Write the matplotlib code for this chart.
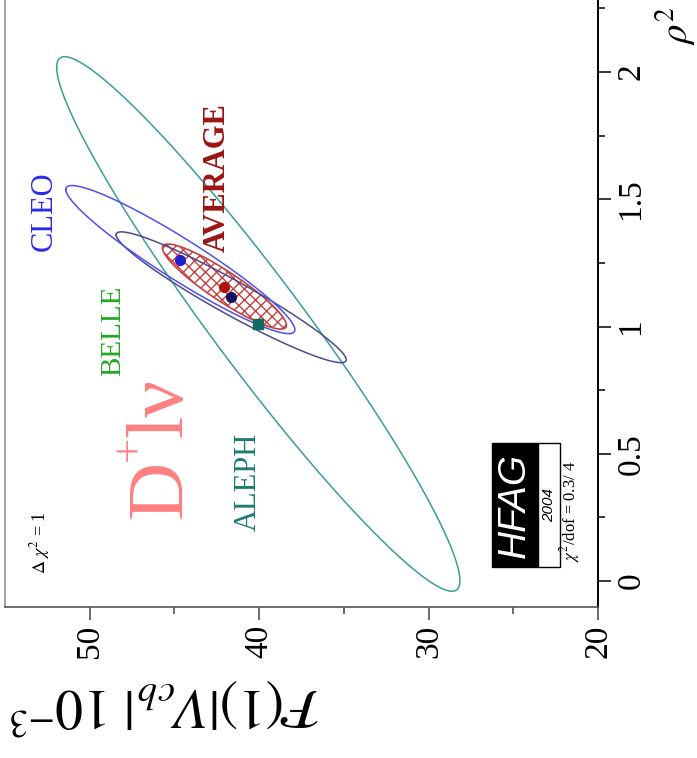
import numpy as np
import matplotlib
matplotlib.use('Agg')
import matplotlib.pyplot as plt
from matplotlib.patches import Polygon, Rectangle
from matplotlib.ticker import FixedLocator

plt.rcParams['font.family'] = ['Liberation Serif', 'DejaVu Serif']
plt.rcParams['mathtext.fontset'] = 'stix'
plt.rcParams['hatch.linewidth'] = 1.0

# Delta chi^2 = 1 contours in the (F(1)|Vcb|, rho^2) plane for B -> D l nu
experiments = ['ALEPH', 'BELLE', 'CLEO', 'AVERAGE']
fvcb = [40.05, 41.65, 44.65, 42.05]          # F(1)|Vcb| x 10^3
fvcb_err = [11.9, 6.79, 6.76, 3.66]
rho2 = [1.01, 1.115, 1.263, 1.157]
rho2_err = [1.05, 0.257, 0.291, 0.167]
corr = [0.96, 0.955, 0.946, 0.91]

contour_colors = ['#3a9e96', '#4b4b8f', '#5050f0', '#c03030']
marker_colors = ['#126a62', '#14145e', '#1f1fd0', '#b01212']
marker_shapes = ['s', 'o', 'o', 'o']
label_colors = ['#1c7c72', '#22a822', '#2a2af0', '#9c1414']

f_ticks = [20, 30, 40, 50]
f_minor = [25, 35, 45]
rho2_ticks = [0, 0.5, 1, 1.5, 2]
rho2_minor = [0.25, 0.75, 1.25, 1.75, 2.25]

chi2_text = r'$\chi^2$/dof = 0.3/ 4'


def contour(cx, sx, cy, sy, r, n=500):
    t = np.linspace(0, 2 * np.pi, n)
    x = cx + sx * np.cos(t)
    y = cy + sy * (r * np.cos(t) + np.sqrt(1 - r * r) * np.sin(t))
    return x, y


W, H = 697, 758
fig = plt.figure(figsize=(W / 100, H / 100), dpi=100)
# the page is turned a quarter turn: F(1)|Vcb| runs right-to-left, rho^2 upward
ax = fig.add_axes([5 / W, (H - 606.5) / H, 593 / W, (606.5 + 4.35) / H])
ax.set_xlim(55, 20)
ax.set_ylim(-0.1, 2.3)

for i, name in enumerate(experiments):
    x, y = contour(fvcb[i], fvcb_err[i], rho2[i], rho2_err[i], corr[i])
    if name == 'AVERAGE':
        ax.add_patch(Polygon(np.column_stack([x, y]), closed=True,
                             facecolor='white', edgecolor='#c84040',
                             hatch='xxx', lw=1.2, zorder=1))
    else:
        ax.plot(x, y, color=contour_colors[i], lw=1.1, zorder=2)

for i, name in enumerate(experiments):
    ax.plot(fvcb[i], rho2[i], marker=marker_shapes[i], color=marker_colors[i],
            ms=7 if marker_shapes[i] == 'o' else 7.5, ls='none', zorder=4)

# experiment labels
label_pos = {'CLEO': (52.66, 1.455), 'BELLE': (48.59, 0.982),
             'ALEPH': (40.67, 0.389), 'AVERAGE': (42.50, 1.587)}
for i, name in enumerate(experiments):
    fx, fy = label_pos[name]
    ax.text(fx, fy, name, rotation=90, ha='center', va='center',
            color=label_colors[i], fontsize=22 if name != 'BELLE' else 21,
            fontweight='bold' if name == 'AVERAGE' else 'normal', zorder=5)

# decay channel title, written along the baseline (D, superscript +, l nu)
chan_color = '#ff8080'
ax.text(44.58, 0.247, 'D', rotation=90, rotation_mode='anchor', ha='left',
        va='baseline', color=chan_color, fontsize=58, zorder=5)
ax.text(47.6, 0.522, '+', rotation=90, ha='center', va='center',
        color=chan_color, fontsize=32, zorder=5)
ax.text(44.58, 0.566, 'lν', rotation=90, rotation_mode='anchor', ha='left',
        va='baseline', color=chan_color, fontsize=58, zorder=5)

ax.text(52.96, 0.153, r'$\Delta\ \chi^2$ = 1', rotation=90, ha='center',
        va='center', fontsize=13, zorder=5)

# HFAG logo
ax.add_patch(Rectangle((23.54, 0.055), 2.72, 0.487, facecolor='black',
                       edgecolor='black', lw=1, zorder=5))
ax.add_patch(Rectangle((22.24, 0.055), 1.30, 0.487, facecolor='white',
                       edgecolor='black', lw=1, zorder=5))
ax.text(24.90, 0.299, 'HFAG', rotation=90, ha='center', va='center',
        color='white', fontsize=28, style='italic',
        family=['Liberation Sans', 'DejaVu Sans'], zorder=6)
ax.text(22.89, 0.299, '2004', rotation=90, ha='center', va='center',
        color='black', fontsize=11, style='italic',
        family=['Liberation Sans', 'DejaVu Sans'], zorder=6)
ax.text(21.65, 0.275, chi2_text, rotation=90, ha='center', va='center',
        fontsize=12, zorder=6)

# axes styling
ax.yaxis.tick_right()
ax.xaxis.set_major_locator(FixedLocator(f_ticks))
ax.xaxis.set_minor_locator(FixedLocator(f_minor))
ax.yaxis.set_major_locator(FixedLocator(rho2_ticks))
ax.yaxis.set_minor_locator(FixedLocator(rho2_minor))
ax.set_xticklabels([str(v) for v in f_ticks])
ax.set_yticklabels(['0', '0.5', '1', '1.5', '2'])
ax.tick_params(axis='both', which='major', direction='out', length=9,
               width=1.1, labelsize=24, pad=4)
ax.tick_params(axis='both', which='minor', direction='out', length=5,
               width=1.1)
ax.tick_params(axis='x', which='both', bottom=True, top=False, color='#444444')
ax.tick_params(axis='y', which='both', right=True, left=False)
for lab in ax.get_xticklabels():
    lab.set_rotation(90)
    lab.set_ha('center')
    lab.set_va('top')
for lab in ax.get_yticklabels():
    lab.set_rotation(90)
    lab.set_ha('left')
    lab.set_va('center')

ax.spines['top'].set_visible(False)
ax.spines['left'].set_color('#909090')
ax.spines['left'].set_linewidth(1.2)
ax.spines['bottom'].set_color('#555555')
ax.spines['bottom'].set_linewidth(1.2)
ax.spines['right'].set_color('black')
ax.spines['right'].set_linewidth(1.4)

# axis titles
fig.text(10 / W, 1 - 707 / H,
         r'$\mathcal{F}\mathit{(1)|V}_{\mathit{cb}}\mathit{|\ 10}^{\mathit{-3}}$',
         rotation=180, ha='left', va='center', fontsize=40)
fig.text(676 / W, 1 - 6 / H, r'$\rho^2$', rotation=90, ha='center',
         va='top', fontsize=28)

fig.savefig('out.png', dpi=100, facecolor='white')
